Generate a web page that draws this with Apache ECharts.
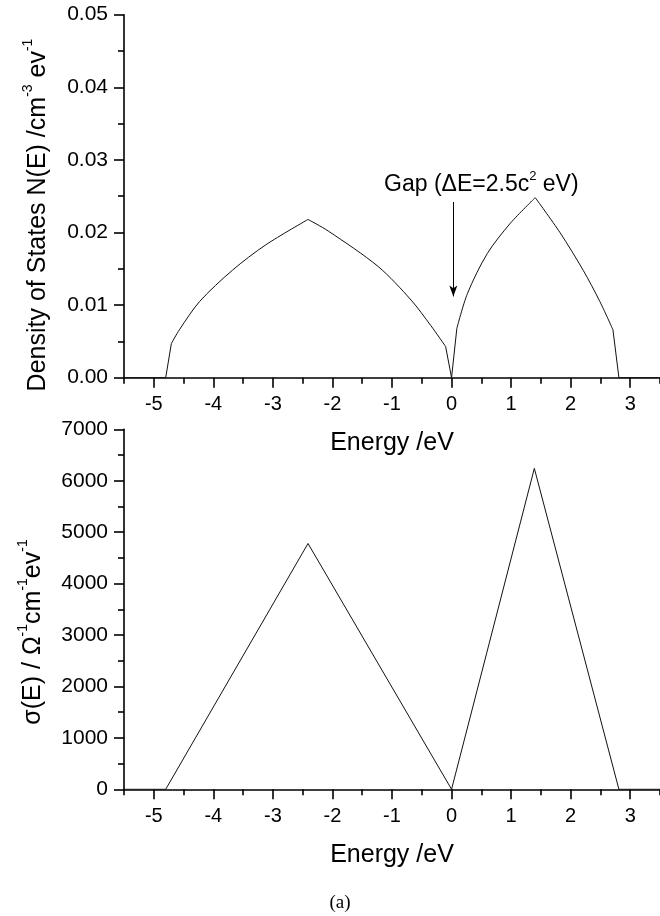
<!DOCTYPE html>
<html>
<head>
<meta charset="utf-8">
<title>DOS and conductivity</title>
<script src="https://cdn.jsdelivr.net/npm/echarts@6/dist/echarts.min.js"></script>
<style>
	html, body { margin: 0; padding: 0; background: #fff; }
	#main { width: 660px; height: 916px; }
</style>
</head>
<body>
<div id="main"></div>
<script>
/*** density of states / conductivity vs energy ***/
// upper panel: N(E)
var energyDos = [-5.5, -4.8, -4.705, -4.57, -4.23, -3.68, -3.12, -2.41, -2.07, -1.23, -0.68, -0.35, -0.10, 0,
	0.089, 0.267, 0.6, 0.99, 1.405, 1.82, 2.21, 2.49, 2.71, 2.81, 3.5];
var dosValues = [0, 0, 0.0047, 0.0066, 0.0105, 0.0148, 0.0183, 0.0218, 0.0202, 0.0153, 0.0107, 0.0072, 0.0043, 0,
	0.0068, 0.0116, 0.0171, 0.0213, 0.0248, 0.0200, 0.0148, 0.0105, 0.0066, 0, 0];
// index ranges of dosValues drawn as curved pieces (the rest is straight)
var dosCurves = [[2, 7], [7, 12], [14, 18], [18, 22]];
var dosStraight = [[0, 2], [12, 14], [22, 24]];
// lower panel: sigma(E)
var energySigma = [-5.5, -4.8, -2.41, 0, 1.39, 2.81, 3.5];
var sigmaValues = [0, 0, 4780, 0, 6240, 0, 0];
// axis ticks
var xMajorTicks = [-5, -4, -3, -2, -1, 0, 1, 2, 3];
var xMinorTicks = [-5.5, -4.5, -3.5, -2.5, -1.5, -0.5, 0.5, 1.5, 2.5, 3.5];
// gap annotation (data coords of upper panel)
var gapText = "Gap (ΔE=2.5c";
var gapLabelAt = [0.5, 0.0268];
var gapArrow = [[0.03, 0.0242], [0.03, 0.0112]];

var FONT = "Liberation Sans, Arial, Helvetica, sans-serif";

var dosChart = {
	init: function() {
		this.chart = echarts.init(document.getElementById("main"));
		this.chart.setOption(this.option());
	},
	pairs: function(xs, ys, from, to) {
		var out = [];
		for (var i = from; i <= to; i++) {
			out.push([xs[i], ys[i]]);
		}
		return out;
	},
	piece: function(data, smooth) {
		return {
			type: "line",
			xAxisIndex: 0,
			yAxisIndex: 0,
			data: data,
			symbol: "none",
			smooth: smooth,
			lineStyle: { color: "#111", width: 1 }
		};
	},
	// two x axes per grid: one for long ticks + labels, one for the short half ticks
	xAxes: function(gridIndex, name) {
		return [{
			type: "value",
			gridIndex: gridIndex,
			min: -5.5,
			max: 3.5,
			position: "bottom",
			name: name,
			nameLocation: "middle",
			nameGap: 53,
			nameTextStyle: { fontFamily: FONT, fontSize: 25, color: "#000" },
			axisLine: { show: true, onZero: false, lineStyle: { color: "#000", width: 1.6 } },
			axisTick: { show: true, inside: false, length: 10, customValues: xMajorTicks, lineStyle: { color: "#000", width: 1.6 } },
			axisLabel: { show: true, margin: 17, customValues: xMajorTicks, fontFamily: FONT, fontSize: 20, color: "#000" },
			splitLine: { show: false }
		}, {
			type: "value",
			gridIndex: gridIndex,
			min: -5.5,
			max: 3.5,
			position: "bottom",
			axisLine: { show: false, onZero: false },
			axisTick: { show: true, length: 6, customValues: xMinorTicks, lineStyle: { color: "#000", width: 1.6 } },
			axisLabel: { show: false },
			splitLine: { show: false }
		}];
	},
	yAxis: function(gridIndex, max, step, digits) {
		return {
			type: "value",
			gridIndex: gridIndex,
			min: 0,
			max: max,
			interval: step,
			axisLine: { show: true, onZero: false, lineStyle: { color: "#000", width: 1.6 } },
			axisTick: { show: true, length: 10, lineStyle: { color: "#000", width: 1.6 } },
			minorTick: { show: true, splitNumber: 2, length: 6, lineStyle: { color: "#000", width: 1.6 } },
			axisLabel: {
				margin: 16,
				fontFamily: FONT,
				fontSize: 21,
				color: "#000",
				formatter: function(v) {
					return v.toFixed(digits);
				}
			},
			splitLine: { show: false },
			minorSplitLine: { show: false }
		};
	},
	option: function() {
		var self = this;
		var supRich = {
			m: { fontFamily: FONT, fontSize: 25, color: "#000", lineHeight: 29, verticalAlign: "bottom" },
			s: { fontFamily: FONT, fontSize: 14, color: "#000", lineHeight: 15, verticalAlign: "top" }
		};
		var xs = this.xAxes(0, "Energy /eV").concat(this.xAxes(1, "Energy /eV"));
		var series = [];
		dosStraight.forEach(function(r) {
			series.push(self.piece(self.pairs(energyDos, dosValues, r[0], r[1]), false));
		});
		dosCurves.forEach(function(r) {
			series.push(self.piece(self.pairs(energyDos, dosValues, r[0], r[1]), 0.3));
		});
		// annotation rides on the first piece
		series[0].markPoint = {
			silent: true,
			symbol: "circle",
			symbolSize: 1,
			itemStyle: { color: "transparent" },
			data: [{
				coord: gapLabelAt,
				label: {
					show: true,
					position: "inside",
					formatter: "{m|" + gapText + "}{s|2}{m| eV)}",
					rich: {
						m: { fontFamily: FONT, fontSize: 23, color: "#000", lineHeight: 26, verticalAlign: "bottom" },
						s: { fontFamily: FONT, fontSize: 13, color: "#000", lineHeight: 13, verticalAlign: "top" }
					}
				}
			}]
		};
		series[0].markLine = {
			silent: true,
			symbol: ["none", "arrow"],
			symbolSize: [6, 11],
			label: { show: false },
			lineStyle: { color: "#000", width: 1, type: "solid" },
			data: [[{ coord: gapArrow[0] }, { coord: gapArrow[1] }]]
		};
		series.push({
			type: "line",
			xAxisIndex: 2,
			yAxisIndex: 1,
			data: this.pairs(energySigma, sigmaValues, 0, energySigma.length - 1),
			symbol: "none",
			lineStyle: { color: "#111", width: 1 }
		});
		return {
			animation: false,
			backgroundColor: "#fff",
			grid: [
				{ left: 124, top: 14.7, width: 540, height: 363 },
				{ left: 124, top: 429.3, width: 540, height: 360 }
			],
			xAxis: xs,
			yAxis: [
				this.yAxis(0, 0.05, 0.01, 2),
				this.yAxis(1, 7000, 1000, 0)
			],
			graphic: [{
				type: "text",
				x: 36,
				y: 215,
				rotation: Math.PI / 2,
				style: {
					text: "{m|Density of States N(E) /cm}{s|-3}{m| ev}{s|-1}",
					rich: supRich,
					align: "center",
					verticalAlign: "middle"
				}
			}, {
				type: "text",
				x: 31,
				y: 632,
				rotation: Math.PI / 2,
				style: {
					text: "{m|σ(E) / Ω}{s|-1}{m|cm}{s|-1}{m|ev}{s|-1}",
					rich: supRich,
					align: "center",
					verticalAlign: "middle"
				}
			}, {
				type: "text",
				x: 340,
				y: 903,
				style: {
					text: "(a)",
					fontFamily: "Liberation Serif, Times New Roman, serif",
					fontSize: 19,
					fill: "#000",
					align: "center",
					verticalAlign: "middle"
				}
			}],
			series: series
		};
	}
};

dosChart.init();
</script>
</body>
</html>
